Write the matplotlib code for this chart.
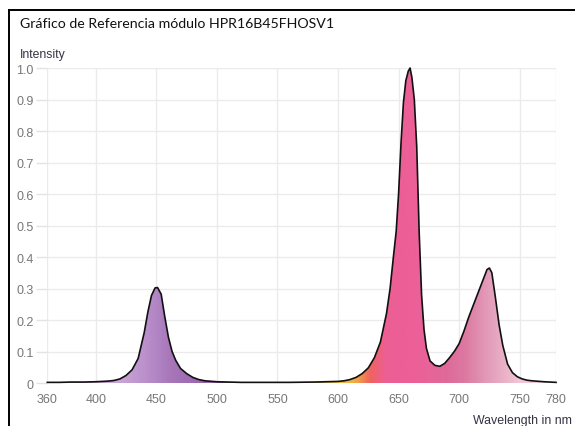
import numpy as np
import matplotlib
matplotlib.use("Agg")
import matplotlib.pyplot as plt
from matplotlib.colors import LinearSegmentedColormap
from matplotlib.lines import Line2D

# spectrum (wavelength in nm, relative intensity)
wavelength = [360, 370, 380, 390, 400, 405, 410, 415, 420, 425, 430, 435, 440,
              443, 446, 449, 451, 454, 457, 460, 463, 466, 470, 475, 480, 485,
              490, 500, 510, 520, 540, 560, 580, 600, 605, 610, 615, 620, 625,
              630, 635, 640, 643, 646, 648, 650, 652, 654, 656, 658, 659.5, 661,
              663, 665, 667, 669, 671, 673, 676, 680, 684, 688, 692, 696, 700,
              704, 708, 712, 716, 720, 723, 725, 727, 730, 733, 736, 740, 744,
              748, 752, 756, 760, 770, 780]
intensity = [0.002, 0.002, 0.003, 0.003, 0.004, 0.005, 0.006, 0.008, 0.013, 0.024,
             0.042, 0.078, 0.16, 0.225, 0.278, 0.302, 0.303, 0.282, 0.21, 0.145,
             0.10, 0.072, 0.046, 0.03, 0.018, 0.011, 0.007, 0.004, 0.003, 0.002,
             0.002, 0.002, 0.003, 0.005, 0.007, 0.011, 0.018, 0.03, 0.048, 0.08,
             0.13, 0.22, 0.30, 0.41, 0.48, 0.60, 0.76, 0.89, 0.96, 0.99, 1.0,
             0.97, 0.90, 0.75, 0.48, 0.28, 0.17, 0.11, 0.07, 0.056, 0.053, 0.062,
             0.08, 0.10, 0.125, 0.165, 0.21, 0.25, 0.29, 0.33, 0.36, 0.365, 0.35,
             0.27, 0.185, 0.12, 0.06, 0.033, 0.02, 0.013, 0.009, 0.007, 0.004,
             0.002]

x_ticks = [360, 400, 450, 500, 550, 600, 650, 700, 750, 780]
y_ticks = [0, 0.1, 0.2, 0.3, 0.4, 0.5, 0.6, 0.7, 0.8, 0.9, 1.0]
y_labels = ["0", "0.1", "0.2", "0.3", "0.4", "0.5", "0.6", "0.7", "0.8", "0.9", "1.0"]

title = "Gráfico de Referencia módulo HPR16B45FHOSV1"

# fill colour along the wavelength axis
stops = [(360, "#c9a4d5"), (420, "#c9a4d5"), (440, "#bb91cc"), (460, "#a878bb"),
         (490, "#9a63ad"), (540, "#9a63ad"), (600, "#f2c447"), (615, "#f2a845"),
         (627, "#f06262"), (640, "#ec5f95"), (665, "#ec6098"), (690, "#e0699a"),
         (705, "#dc78a1"), (725, "#e39cb9"), (750, "#f0c4d4"), (780, "#f4d2de")]
cmap = LinearSegmentedColormap.from_list(
    "spec", [((w - 360) / 420, c) for w, c in stops])

plt.rcParams["font.family"] = ["Liberation Sans", "DejaVu Sans"]

fig = plt.figure(figsize=(5.75, 4.27), dpi=100)
ax = fig.add_axes([0.0823, 0.1007, 0.8847, 0.7377])

grad = np.linspace(0, 1, 600).reshape(1, -1)
img = ax.imshow(grad, extent=[360, 780, 0, 1], aspect="auto", cmap=cmap,
                origin="lower", zorder=2)
poly = ax.fill_between(wavelength, intensity, 0, color="none", zorder=2)
img.set_clip_path(poly.get_paths()[0], transform=ax.transData)
ax.plot(wavelength, intensity, color="#111111", lw=1.2, zorder=3, clip_on=False)

ax.set_xlim(360, 780)
ax.set_ylim(0, 1.0)
ax.set_xticks(x_ticks)
ax.set_yticks(y_ticks)
ax.set_yticklabels(y_labels)
ax.grid(True, color="#ebebeb", lw=1, zorder=0)
ax.set_axisbelow(True)
for s in ax.spines.values():
    s.set_visible(False)
ax.tick_params(axis="x", length=0, pad=7, labelsize=9, labelcolor="#777777")
ax.tick_params(axis="y", length=8, width=1, color="#e3e3e3", pad=2,
               labelsize=9, labelcolor="#777777")

fig.text(20 / 575, 1 - 24 / 427, title, fontsize=10.2, family=["Lato", "DejaVu Sans"],
         va="center", ha="left", color="#111111")
fig.text(20 / 575, 1 - 55 / 427, "Intensity", fontsize=8.8, va="center",
         ha="left", color="#333344")
fig.text(572 / 575, 1 - 421 / 427, "Wavelength in nm", fontsize=8.9, va="center",
         ha="right", color="#333344")

# outer frame, top and left edges
fig.add_artist(Line2D([9 / 575, 1], [1 - 11 / 427, 1 - 11 / 427],
                      transform=fig.transFigure, color="black", lw=1.4))
fig.add_artist(Line2D([9 / 575, 9 / 575], [1 - 11 / 427, 0],
                      transform=fig.transFigure, color="black", lw=1.4))

fig.savefig("out.png", dpi=100)
